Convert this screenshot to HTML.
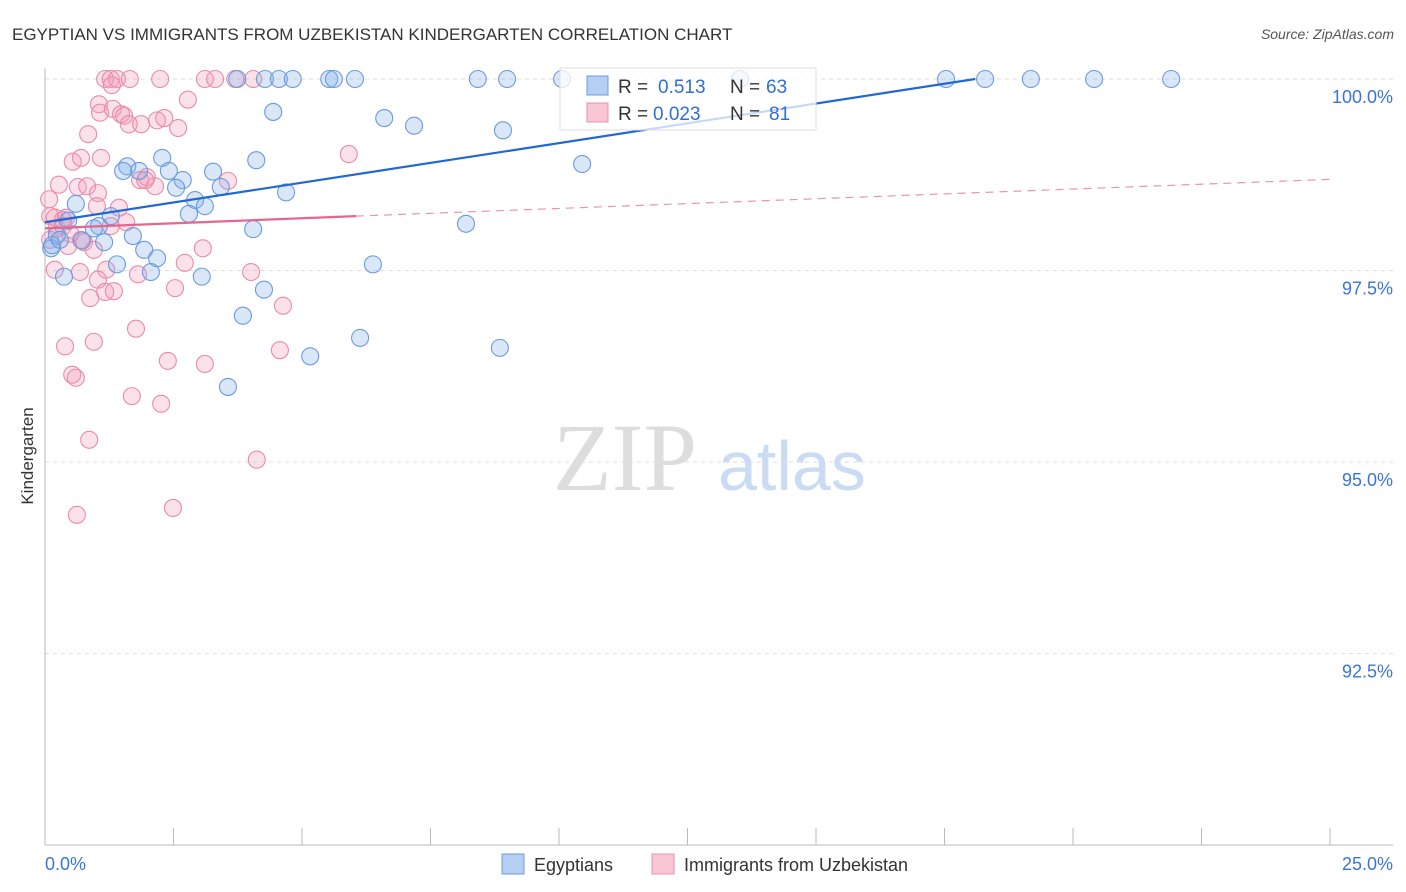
<!DOCTYPE html>
<html><head><meta charset="utf-8"><style>
body{margin:0;background:#fff;font-family:"Liberation Sans",sans-serif;}
svg{display:block}
</style></head><body>
<svg id="chart" width="1406" height="892">
<text x="12" y="40" font-size="17" fill="#333">EGYPTIAN VS IMMIGRANTS FROM UZBEKISTAN KINDERGARTEN CORRELATION CHART</text>
<text x="1394" y="39" font-size="14" fill="#555" font-style="italic" text-anchor="end">Source: ZipAtlas.com</text>
<text x="33" y="456" font-size="17" fill="#333" transform="rotate(-90 33 456)" text-anchor="middle">Kindergarten</text>
<g>
<text x="553" y="490" font-size="96" fill="#ddd" font-family="Liberation Serif,serif">ZIP</text>
<text x="718" y="490" font-size="70" fill="#c9dcf3">atlas</text>
</g>
<g id="grid"></g><g id="axes"></g><g id="pts"></g><g id="lines"></g>
<g>
<rect x="560" y="68" width="256" height="62" fill="#fff" fill-opacity="0.75" stroke="#ddd"/>
<rect x="587" y="76" width="21" height="19" fill="#b5cff2" stroke="#6d9be0"/>
<text x="618" y="93" font-size="19" fill="#333">R =</text>
<text x="658" y="93" font-size="19" fill="#2f6fd6">0.513</text>
<text x="730" y="93" font-size="19" fill="#333">N =</text>
<text x="766" y="93" font-size="19" fill="#2f6fd6">63</text>
<rect x="587" y="103" width="21" height="19" fill="#f9c6d5" stroke="#e890aa"/>
<text x="618" y="120" font-size="19" fill="#333">R =</text>
<text x="653" y="120" font-size="19" fill="#2f6fd6">0.023</text>
<text x="730" y="120" font-size="19" fill="#333">N =</text>
<text x="769" y="120" font-size="19" fill="#2f6fd6">81</text>
</g>
<g>
<rect x="502" y="854" width="22" height="20" fill="#b5cff2" stroke="#6d9be0"/>
<text x="534" y="871" font-size="18" fill="#333">Egyptians</text>
<rect x="652" y="854" width="22" height="20" fill="#f9c6d5" stroke="#e890aa"/>
<text x="684" y="871" font-size="18" fill="#333">Immigrants from Uzbekistan</text>
</g>
</svg>
<script>
const yTicks=[100,97.5,95,92.5];
const yTickLabels=["100.0%","97.5%","95.0%","92.5%"];
const xEnds=["0.0%","25.0%"];
const blueX=[3.74,4.28,4.55,4.82,5.53,5.62,6.03,8.42,8.99,10.06,13.52,17.53,18.29,19.18,20.41,21.91,4.44,6.60,7.18,8.91,2.28,4.11,1.60,1.83,1.52,2.41,3.27,2.68,2.55,3.42,4.69,10.45,2.92,3.11,0.60,2.80,1.28,0.45,1.05,0.95,4.05,8.19,0.23,0.72,1.15,1.71,0.12,1.93,2.18,1.40,6.38,2.06,0.37,3.05,4.26,3.85,6.13,5.16,8.85,3.56,0.14,0.29];
const blueY=[100,100,100,100,100,100,100,100,100,100,100,100,100,100,100,100,99.57,99.49,99.39,99.33,98.97,98.94,98.86,98.80,98.80,98.80,98.79,98.68,98.58,98.59,98.52,98.89,98.42,98.34,98.37,98.24,98.21,98.15,98.08,98.05,98.04,98.11,97.96,97.89,97.87,97.95,97.79,97.77,97.66,97.58,97.58,97.48,97.42,97.42,97.25,96.91,96.62,96.38,96.49,95.98,97.83,97.90];
const pinkX=[1.17,1.28,1.40,1.65,2.24,3.11,3.31,4.05,1.30,2.78,1.05,1.07,1.32,1.48,1.54,1.63,1.87,2.18,2.32,2.59,0.84,0.54,0.70,1.09,5.91,0.27,0.64,0.82,1.03,1.85,1.98,2.14,3.56,1.01,1.44,0.08,0.10,0.19,0.35,0.41,1.58,0.23,0.35,0.49,0.70,0.76,0.10,0.45,0.95,3.07,0.19,0.68,1.19,1.81,2.72,4.01,1.03,0.88,1.17,1.34,2.53,4.63,1.77,0.39,0.95,4.57,2.39,3.11,0.53,0.60,1.69,2.26,0.86,4.12,2.49,0.62,3.70,1.95,1.28];
const pinkY=[100,100,100,100,100,100,100,100,99.92,99.73,99.67,99.56,99.61,99.54,99.52,99.41,99.41,99.46,99.49,99.36,99.28,98.92,98.97,98.97,99.02,98.62,98.59,98.60,98.51,98.68,98.72,98.60,98.67,98.34,98.32,98.43,98.21,98.19,98.16,98.19,98.13,98.05,98.08,97.98,97.90,97.87,97.90,97.82,97.77,97.79,97.51,97.48,97.51,97.45,97.60,97.48,97.38,97.14,97.22,97.23,97.27,97.04,96.74,96.51,96.57,96.46,96.32,96.28,96.14,96.10,95.86,95.76,95.29,95.03,94.40,94.31,100,98.68,98.08];
const blueTrend=[[0,98.13],[18.1,100]];
const pinkTrend=[[0,98.05],[6.05,98.21]];
const pinkTrendDash=[[6.05,98.21],[25,98.69]];
const NS="http://www.w3.org/2000/svg";
const X=v=>45+v*51.4, Y=v=>79+(100-v)*76.6;
function mk(t,a,p){const e=document.createElementNS(NS,t);for(const k in a)e.setAttribute(k,a[k]);p.appendChild(e);return e;}
const grid=document.getElementById('grid'),axes=document.getElementById('axes'),pts=document.getElementById('pts'),lines=document.getElementById('lines');
yTicks.forEach((t,i)=>{
 const g=mk('line',{x1:45,x2:1393,y1:Y(t),y2:Y(t),stroke:'#ddd','stroke-dasharray':'4,4'},grid);
 
 
 const l=mk('text',{x:1393,y:Y(t)+24,'font-size':18,fill:'#3a75d6','text-anchor':'end'},axes);
 l.textContent=yTickLabels[i];
 
 
});
const ya=mk('line',{x1:45,x2:45,y1:68,y2:845,stroke:'#bbb'},axes);


const xa=mk('line',{x1:45,x2:1393,y1:845,y2:845,stroke:'#bbb'},axes);


for(let i=0;i<=10;i++){
 const tk=mk('line',{x1:X(i*2.5),x2:X(i*2.5),y1:828,y2:845,stroke:'#bbb'},axes);
 
 
}
const xl0=mk('text',{x:45,y:870,'font-size':18,fill:'#3a75d6'},axes);xl0.textContent=xEnds[0];


const xl1=mk('text',{x:1393,y:870,'font-size':18,fill:'#3a75d6','text-anchor':'end'},axes);xl1.textContent=xEnds[1];


pinkX.forEach((v,i)=>{
 const c=mk('circle',{cx:X(v),cy:Y(pinkY[i]),r:8.5,fill:'rgba(243,160,187,0.3)',stroke:'#eb8aa8','stroke-width':1.1},pts);
 
 
});
blueX.forEach((v,i)=>{
 const c=mk('circle',{cx:X(v),cy:Y(blueY[i]),r:8.5,fill:'rgba(130,175,235,0.3)',stroke:'#6a9bdf','stroke-width':1.1},pts);
 
 
});
const bl=mk('line',{x1:X(blueTrend[0][0]),y1:Y(blueTrend[0][1]),x2:X(blueTrend[1][0]),y2:Y(blueTrend[1][1]),stroke:'#2268d4','stroke-width':2.2},lines);


const pl=mk('line',{x1:X(pinkTrend[0][0]),y1:Y(pinkTrend[0][1]),x2:X(pinkTrend[1][0]),y2:Y(pinkTrend[1][1]),stroke:'#e5668f','stroke-width':2.2},lines);


const pd=mk('line',{x1:X(pinkTrendDash[0][0]),y1:Y(pinkTrendDash[0][1]),x2:X(pinkTrendDash[1][0]),y2:Y(pinkTrendDash[1][1]),stroke:'#e994ae','stroke-width':1.2,'stroke-dasharray':'8,6'},lines);


</script>
</body></html>
